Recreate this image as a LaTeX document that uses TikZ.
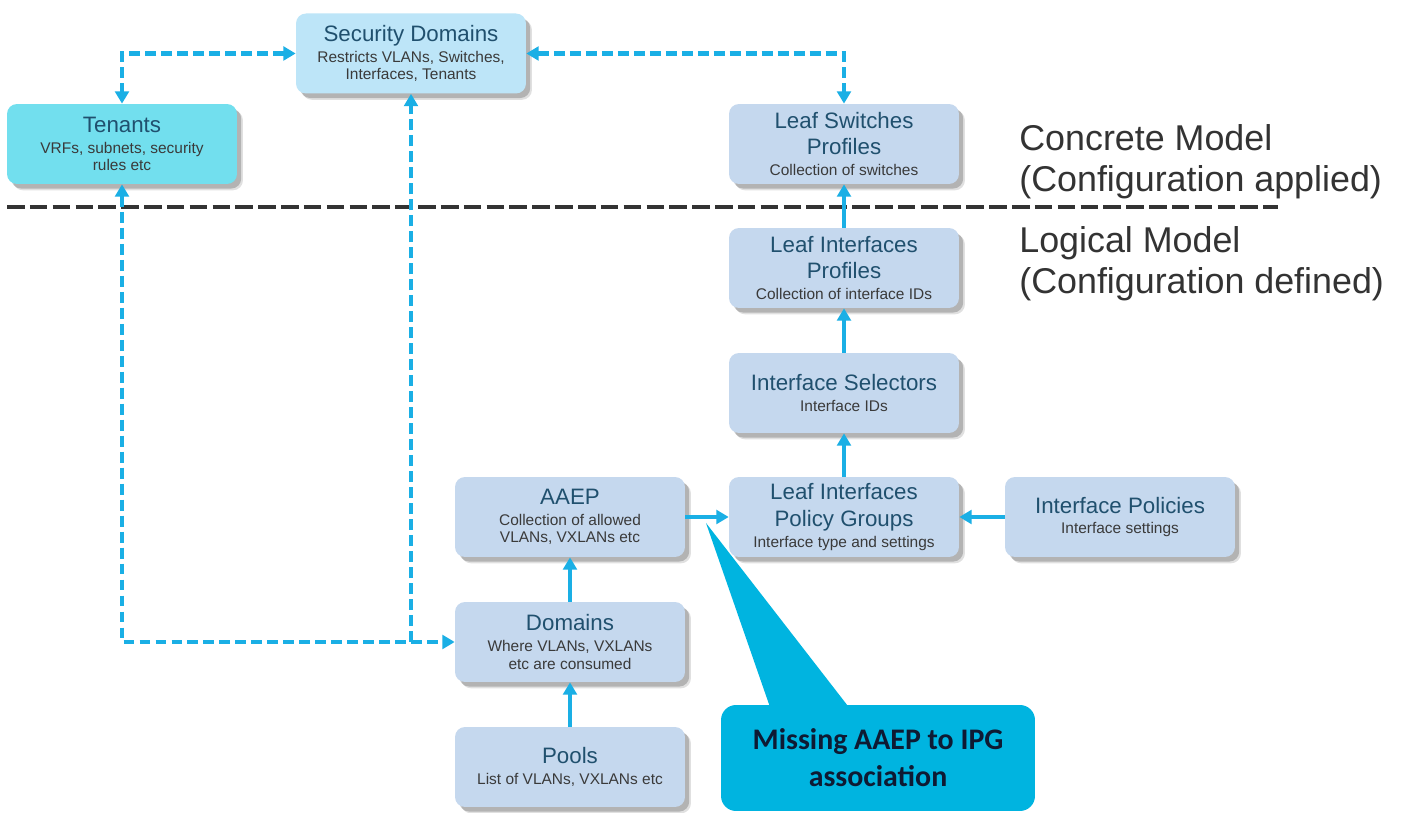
\documentclass[tikz,border=0pt]{standalone}
\usepackage{fontspec}
\setmainfont{Liberation Sans}
\newfontfamily\callfont{Carlito}
\usetikzlibrary{arrows.meta,shadows}
\definecolor{boxblue}{HTML}{C5D8EE}
\definecolor{sdblue}{HTML}{BDE5F8}
\definecolor{tencyan}{HTML}{72DFEE}
\definecolor{arrowc}{HTML}{1AAFE5}
\definecolor{callc}{HTML}{00B4E0}
\definecolor{titleblue}{HTML}{20506E}
\definecolor{subgray}{HTML}{3A3A3A}
\definecolor{calltext}{HTML}{0E1A33}
\definecolor{sepline}{HTML}{333333}
\definecolor{modeltext}{HTML}{333333}
\newcommand{\bxsub}[1]{{\fontsize{8.8}{9.8}\selectfont\color{subgray}#1}}
\tikzset{
  box/.style={rounded corners=0.2cm, minimum width=4.6cm, minimum height=1.6cm,
    fill=boxblue, align=center, inner sep=0pt, text=titleblue,
    font=\fontsize{12.7}{15.3}\selectfont,
    drop shadow={shadow xshift=3.4pt, shadow yshift=-3.6pt, fill=black, opacity=0.12},
    drop shadow={shadow xshift=2.4pt, shadow yshift=-2.6pt, fill=black, opacity=0.2}},
  arr/.style={draw=arrowc, line width=2.3pt, -{Triangle[length=7pt,width=7.8pt]}},
  darr/.style={arr, dash pattern=on 6.2pt off 2.9pt},
  ddarr/.style={darr, {Triangle[length=7pt,width=7.8pt]}-{Triangle[length=7pt,width=7.8pt]}},
  modeltxt/.style={anchor=west, align=left, inner sep=0pt, text=modeltext,
    font=\fontsize{20.4}{23.5}\selectfont},
  callbox/.style={rounded corners=0.3cm, fill=callc, minimum width=6.28cm,
    minimum height=2.12cm, align=center, inner sep=0pt, text=calltext,
    font=\callfont\bfseries\fontsize{17}{21}\selectfont}
}
\begin{document}
\begin{tikzpicture}[x=0.02cm, y=-0.02cm]
\useasboundingbox[fill=white] (0,0) rectangle (1406,813);

% separator line
\coordinate (sepL) at (7,207);
\coordinate (sepR) at (1278,207);
\draw[sepline, line width=2.6pt, dash pattern=on 10pt off 3pt] (sepL) -- (sepR);

% nodes
\node[box, fill=sdblue] (SD) at (411,53.5) {Security Domains\\[-3.4pt]\bxsub{Restricts VLANs, Switches,}\\[-5.5pt]\bxsub{Interfaces, Tenants}};
\node[box, fill=tencyan] (TN) at (122,144) {Tenants\\[-3.4pt]\bxsub{VRFs, subnets, security}\\[-5.5pt]\bxsub{rules etc}};
\node[box] (LS) at (844,144) {Leaf Switches\\Profiles\\[-3.4pt]\bxsub{Collection of switches}};
\node[box] (LIP) at (844,268) {Leaf Interfaces\\Profiles\\[-3.4pt]\bxsub{Collection of interface IDs}};
\node[box] (IS) at (844,393) {Interface Selectors\\[-3.4pt]\bxsub{Interface IDs}};
\node[box] (LIPG) at (844,517) {Leaf Interfaces\\Policy Groups\\[-3.4pt]\bxsub{Interface type and settings}};
\node[box] (IP) at (1120,517) {Interface Policies\\[-3.4pt]\bxsub{Interface settings}};
\node[box] (AAEP) at (570,517) {AAEP\\[-3.4pt]\bxsub{Collection of allowed}\\[-5.5pt]\bxsub{VLANs, VXLANs etc}};
\node[box] (DOM) at (570,642) {Domains\\[-3.4pt]\bxsub{Where VLANs, VXLANs}\\[-5.5pt]\bxsub{etc are consumed}};
\node[box] (POOL) at (570,767) {Pools\\[-3.4pt]\bxsub{List of VLANs, VXLANs etc}};

% model labels
\node[modeltxt] (concrete) at (1019,162) {Concrete Model\\(Configuration applied)};
\node[modeltxt] (logical) at (1019,264) {Logical Model\\(Configuration defined)};

% solid arrows
\draw[arr] (LIP.north) -- (LS.south);
\draw[arr] (IS.north) -- (LIP.south);
\draw[arr] (LIPG.north) -- (IS.south);
\draw[arr] (IP.west) -- (LIPG.east);
\draw[arr] (AAEP.east) -- (LIPG.west);
\draw[arr] (DOM.north) -- (AAEP.south);
\draw[arr] (POOL.north) -- (DOM.south);

% dashed arrows
\draw[ddarr] (SD.west) -| (TN.north);
\draw[ddarr] (SD.east) -| (LS.north);
\draw[ddarr] (TN.south) |- (DOM.west);
\coordinate (join) at (SD.south |- DOM.west);
\draw[darr] (join) -- (SD.south);

% callout
\node[callbox] (call) at (878,758) {Missing AAEP to IPG\\association};
\coordinate (cp1) at (771,710);
\coordinate (cp2) at (851,710);
\coordinate (tip) at (706,523);
\fill[callc] (cp1) -- (tip) -- (cp2) -- cycle;
\end{tikzpicture}
\end{document}
